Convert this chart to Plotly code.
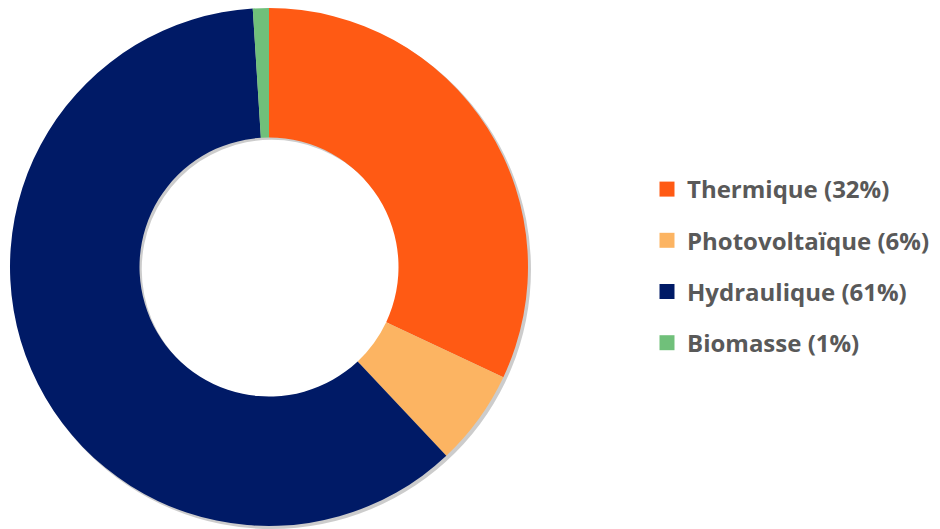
import plotly.graph_objects as go

labels = ["Thermique", "Photovoltaïque", "Hydraulique", "Biomasse"]
values = [32, 6, 61, 1]
colors = ["#FF5A14", "#FCB462", "#001A66", "#70C07A"]

W, H = 940, 529
fig = go.Figure()

# soft drop shadow under the ring
fig.add_trace(go.Pie(
    labels=["shadow"], values=[1], hole=0.5, sort=False,
    marker=dict(colors=["rgba(0,0,0,0.2)"], line=dict(width=0)),
    textinfo="none", hoverinfo="skip", showlegend=False,
    domain=dict(x=[12 / W, 531 / W], y=[1 - 529 / H, 1 - 10 / H]),
))

fig.add_trace(go.Pie(
    labels=labels, values=values, hole=0.5, sort=False,
    direction="clockwise", rotation=0,
    marker=dict(colors=colors, line=dict(width=0)),
    textinfo="none", hoverinfo="label+percent", showlegend=False,
    domain=dict(x=[10 / W, 528 / W], y=[1 - 526 / H, 1 - 8 / H]),
))

total = sum(values)
for i, (lab, val, col) in enumerate(zip(labels, values, colors)):
    fig.add_trace(go.Scatter(
        x=[None], y=[None], mode="markers",
        marker=dict(symbol="square", size=15, color=col),
        name=f"{lab} ({round(100 * val / total)}%)",
        legendgroup=f"g{i}", showlegend=True, hoverinfo="skip",
    ))

fig.update_layout(
    width=W, height=H, margin=dict(l=0, r=0, t=0, b=0),
    paper_bgcolor="white", plot_bgcolor="white",
    xaxis=dict(visible=False), yaxis=dict(visible=False),
    legend=dict(
        x=647 / W, xanchor="left", y=1 - 167 / H, yanchor="top",
        font=dict(family="Open Sans", size=24, color="#595959", weight="bold"),
        tracegroupgap=17, bgcolor="rgba(0,0,0,0)",
    ),
)

fig.write_html("out.html")
